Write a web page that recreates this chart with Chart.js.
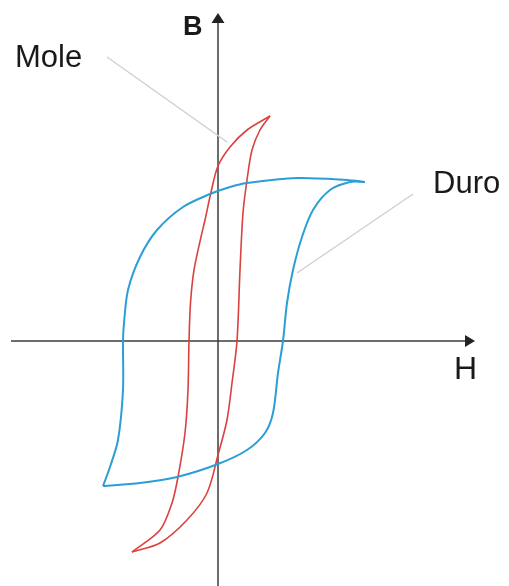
<!DOCTYPE html>
<html>
<head>
<meta charset="utf-8">
<script src="https://cdn.jsdelivr.net/npm/chart.js@4/dist/chart.umd.min.js"></script>
<style>
  html, body { margin: 0; padding: 0; background: #fff; }
  canvas { display: block; }
</style>
</head>
<body>
<canvas id="myChart" width="509" height="586"></canvas>
<script>
// hysteresis loops, H on x, B on y (arbitrary units)
var moleDown = [[5.2, 22.5], [2.9, 21.1], [1.2, 19.4], [0.0, 17.5], [-0.65, 15.1], [-1.3, 12.1], [-1.7, 10.4],
    [-2.4, 7.1], [-2.75, 3.8], [-2.9, 0], [-3.0, -4.9], [-3.3, -9.2], [-4.0, -13.6], [-4.6, -16.2],
    [-5.8, -18.9], [-8.6, -21.1]];
var moleUp = [[-8.6, -21.1], [-5.8, -20.2], [-3.1, -17.9], [-1.1, -15.2], [0.0, -11.4], [0.9, -7.9],
    [1.4, -4.2], [1.9, 0], [2.2, 7.1], [2.5, 12.8], [2.9, 16.1], [3.4, 19.1], [4.2, 21.1], [5.2, 22.5]];
var duroDown = [[14.7, 15.9], [12.9, 16.1], [7.9, 16.3], [2.9, 15.8], [1.2, 15.4], [-0.8, 14.7], [-3.5, 13.4],
    [-6.1, 11.1], [-7.8, 8.4], [-9.0, 5.1], [-9.4, 1.8], [-9.5, 0], [-9.5, -4.9], [-10.0, -9.9],
    [-10.8, -12.6], [-11.5, -14.5]];
var duroUp = [[-11.5, -14.5], [-7.8, -14.2], [-4.1, -13.6], [0.0, -12.3], [2.9, -10.9], [4.7, -9.2],
    [5.5, -7.2], [6.0, -3.2], [6.5, 0], [6.9, 3.8], [7.5, 7.1], [8.4, 10.4], [9.5, 13.1], [11.2, 15.1],
    [13.2, 15.9], [14.7, 15.9]];

// labels and their leader lines
var axisLabels = ['H', 'B'];
var seriesLabels = ['Mole', 'Duro'];
var moleLeader = [[-11.1, 28.4], [0.9, 19.9]];
var duroLeader = [[19.5, 14.7], [7.9, 6.8]];

function pts(arr) {
    return arr.map(function (p) { return { x: p[0], y: p[1] }; });
}

var red = '#d9423f';
var blue = '#2b9ed6';
var gray = '#d0d0d0';

function line(data, color, width, tension) {
    return {
        data: pts(data),
        showLine: true,
        borderColor: color,
        borderWidth: width,
        pointRadius: 0,
        tension: tension,
        fill: false
    };
}

var axesPlugin = {
    id: 'axes',
    beforeDatasetsDraw: function (chart) {
        var c = chart.ctx;
        var xs = chart.scales.x, ys = chart.scales.y;
        var x0 = xs.getPixelForValue(0), y0 = ys.getPixelForValue(0);
        c.save();
        c.strokeStyle = '#3c3c3c';
        c.fillStyle = '#222';
        c.lineWidth = 1.5;
        // H axis
        c.beginPath();
        c.moveTo(11, y0);
        c.lineTo(466, y0);
        c.stroke();
        c.beginPath();
        c.moveTo(475, y0);
        c.lineTo(465, y0 - 6);
        c.lineTo(465, y0 + 6);
        c.closePath();
        c.fill();
        // B axis
        c.beginPath();
        c.moveTo(x0, 586);
        c.lineTo(x0, 22);
        c.stroke();
        c.beginPath();
        c.moveTo(x0, 13);
        c.lineTo(x0 - 6.5, 23);
        c.lineTo(x0 + 6.5, 23);
        c.closePath();
        c.fill();
        c.restore();
    },
    afterDatasetsDraw: function (chart) {
        var c = chart.ctx;
        var xs = chart.scales.x, ys = chart.scales.y;
        c.save();
        c.fillStyle = '#1a1a1a';
        c.textBaseline = 'alphabetic';
        c.textAlign = 'left';
        c.font = '32px "Liberation Sans", Arial, sans-serif';
        c.fillText(axisLabels[0], xs.getPixelForValue(23.6), ys.getPixelForValue(-3.8));
        c.font = 'bold 27px "Liberation Sans", Arial, sans-serif';
        c.fillText(axisLabels[1], xs.getPixelForValue(-3.5), ys.getPixelForValue(30.6));
        c.font = '31px "Liberation Sans", Arial, sans-serif';
        c.fillText(seriesLabels[0], xs.getPixelForValue(-20.3), ys.getPixelForValue(27.4));
        c.fillText(seriesLabels[1], xs.getPixelForValue(21.5), ys.getPixelForValue(14.8));
        c.restore();
    }
};

var ctx = document.getElementById('myChart').getContext('2d');

var myChart = new Chart(ctx, {
    type: 'scatter',
    data: {
        datasets: [
            line(moleLeader, gray, 1.5, 0),
            line(duroLeader, gray, 1.5, 0),
            line(duroDown, blue, 2, 0.3),
            line(duroUp, blue, 2, 0.3),
            line(moleDown, red, 1.6, 0.3),
            line(moleUp, red, 1.6, 0.3)
        ]
    },
    options: {
        responsive: false,
        animation: false,
        devicePixelRatio: 1,
        layout: { padding: 0 },
        scales: {
            x: { type: 'linear', min: -21.8, max: 29.1, display: false },
            y: { type: 'linear', min: -24.5, max: 34.1, display: false }
        },
        plugins: {
            legend: { display: false },
            tooltip: { enabled: false }
        }
    },
    plugins: [axesPlugin]
});
</script>
</body>
</html>
